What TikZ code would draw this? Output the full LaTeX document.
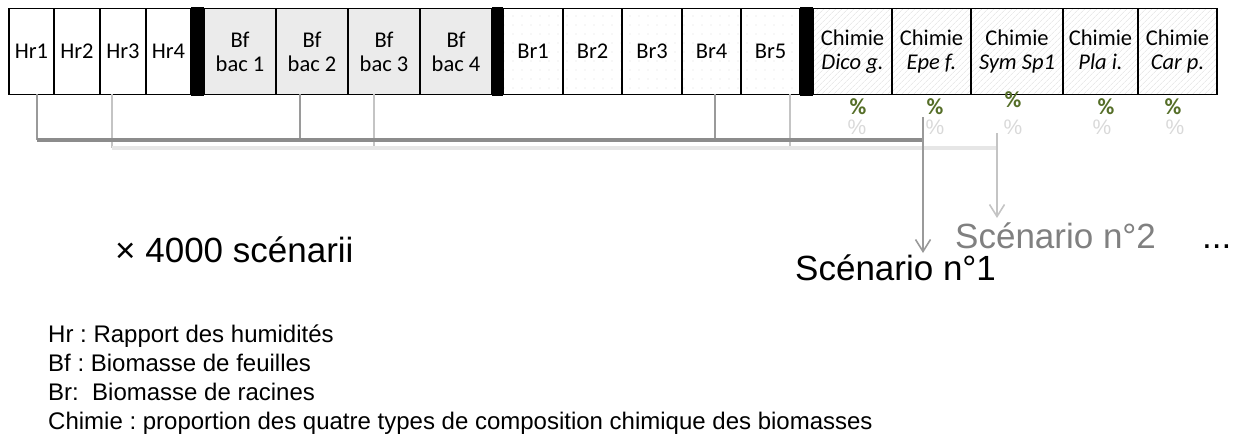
\documentclass[tikz,border=0pt]{standalone}
\usepackage{fontspec}
\setmainfont{Liberation Sans}
\newfontfamily\calib{Carlito}
\usetikzlibrary{arrows.meta,patterns.meta}
\definecolor{bfgray}{HTML}{EBEBEB}
\definecolor{pctgreen}{RGB}{85,110,40}
\definecolor{lnDark}{HTML}{8C8C8C}
\definecolor{lnDarkV}{HTML}{9A9A9A}
\definecolor{lnLight}{HTML}{E6E6E6}
\definecolor{lnLightV}{HTML}{C4C4C4}
\definecolor{sctwo}{HTML}{808080}
\definecolor{pctlight}{HTML}{D9D9D9}
\definecolor{patc}{HTML}{DEDEDE}
\frenchspacing
\begin{document}
\begin{tikzpicture}[x=1pt,y=-1pt,
  cell/.style={draw=black, line width=1.6pt, minimum height=86pt, inner sep=0pt,
    align=center, font=\calib\fontsize{22.5}{24}\selectfont},
  hrcell/.style={cell, fill=white},
  bfcell/.style={cell, fill=bfgray},
  brcell/.style={cell, pattern={Dots[distance=9pt,radius=0.6pt]}, pattern color=patc},
  chcell/.style={cell, pattern={Lines[angle=45,distance=4pt,line width=0.5pt]}, pattern color=patc},
  sepbar/.style={fill=black, draw=none, minimum height=89pt, inner sep=0pt},
  pctg/.style={inner sep=0pt, text=pctgreen, font=\calib\bfseries\fontsize{23}{25}\selectfont},
  pctl/.style={inner sep=0pt, text=pctlight, font=\fontsize{21}{23}\selectfont},
  lhor/.style={draw=lnLight, line width=3.2pt},
  lvert/.style={draw=lnLightV, line width=1.6pt},
  dhor/.style={draw=lnDark, line width=3.2pt},
  dvert/.style={draw=lnDarkV, line width=1.6pt},
  tip/.style={-{Straight Barb[length=12pt,width=15pt]}},
  big/.style={inner sep=0pt, anchor=base west, font=\fontsize{35}{40}\selectfont},
  legend/.style={inner sep=0pt, anchor=base west, font=\fontsize{24}{28}\selectfont}
]
\useasboundingbox (0,0) rectangle (1233,439);

% ---- table ----
\node[hrcell, minimum width=45pt] (hr1) at (31.5,51.5) {Hr1};
\node[hrcell, minimum width=46pt] (hr2) at (77,51.5) {Hr2};
\node[hrcell, minimum width=46pt] (hr3) at (123,51.5) {Hr3};
\node[hrcell, minimum width=45pt] (hr4) at (168.5,51.5) {Hr4};
\node[sepbar, minimum width=13pt] (bar1) at (197.5,51.5) {};
\node[bfcell, minimum width=72pt] (bf1) at (240,51.5) {Bf\\bac 1};
\node[bfcell, minimum width=72pt] (bf2) at (312,51.5) {Bf\\bac 2};
\node[bfcell, minimum width=72pt] (bf3) at (384,51.5) {Bf\\bac 3};
\node[bfcell, minimum width=72pt] (bf4) at (456,51.5) {Bf\\bac 4};
\node[sepbar, minimum width=11pt] (bar2) at (497.5,51.5) {};
\node[brcell, minimum width=60pt] (br1) at (533,51.5) {Br1};
\node[brcell, minimum width=59pt] (br2) at (592.5,51.5) {Br2};
\node[brcell, minimum width=60pt] (br3) at (652,51.5) {Br3};
\node[brcell, minimum width=59pt] (br4) at (711.5,51.5) {Br4};
\node[brcell, minimum width=59pt] (br5) at (770.5,51.5) {Br5};
\node[sepbar, minimum width=13pt] (bar3) at (806.5,51.5) {};
\node[chcell, minimum width=79pt] (ch1) at (852.5,51.5) {Chimie\\\textit{Dico g.}};
\node[chcell, minimum width=79pt] (ch2) at (931.5,51.5) {Chimie\\\textit{Epe f.}};
\node[chcell, minimum width=92pt] (ch3) at (1017,51.5) {Chimie\\\textit{Sym Sp1}};
\node[chcell, minimum width=75pt] (ch4) at (1100.5,51.5) {Chimie\\\textit{Pla i.}\vphantom{g}};
\node[chcell, minimum width=79pt] (ch5) at (1177.5,51.5) {Chimie\\\textit{Car p.}};

% ---- percentages ----
\node[pctl] (pl1) at (857,127) {\%};
\node[pctl] (pl2) at (935,127) {\%};
\node[pctl] (pl3) at (1013,127) {\%};
\node[pctl] (pl4) at (1102,127) {\%};
\node[pctl] (pl5) at (1175,127) {\%};
\node[pctg] (pg1) at (858,106.5) {\%};
\node[pctg] (pg2) at (935,106.5) {\%};
\node[pctg] (pg3) at (1013,100) {\%};
\node[pctg] (pg4) at (1106,106.5) {\%};
\node[pctg] (pg5) at (1173,106.5) {\%};

% ---- scenario texts ----
\node[big] (mult) at (115,262) {× 4000 scénarii};
\node[big, text=sctwo] (sc2) at (955,248) {Scénario n°2};
\node[big] (sc1) at (795,280) {Scénario n°1};
\node[big] (more) at (1202,248) {...};

% ---- scenario 2 (light) ----
\coordinate (L0) at (112,94);  \coordinate (L0b) at (112,148);
\coordinate (L1) at (374,94);  \coordinate (L1b) at (374,148);
\coordinate (L2) at (790,94);  \coordinate (L2b) at (790,148);
\coordinate (L3) at (997,148); \coordinate (L3t) at (997,133);
\coordinate (L3e) at (997,218);
\draw[lvert] (L0) -- (L0b);
\draw[lvert] (L1) -- (L1b);
\draw[lvert] (L2) -- (L2b);
\draw[lhor] (L0b) -- (L3);
\draw[lvert, tip] (L3t) -- (L3e);

% ---- scenario 1 (dark) ----
\coordinate (D0) at (37,94);   \coordinate (D0b) at (37,140);
\coordinate (D1) at (300,94);  \coordinate (D1b) at (300,140);
\coordinate (D2) at (715,94);  \coordinate (D2b) at (715,140);
\coordinate (D3) at (923,140); \coordinate (D3t) at (923,117);
\coordinate (D3e) at (923,253);
\draw[dvert] (D0) -- (D0b);
\draw[dvert] (D1) -- (D1b);
\draw[dvert] (D2) -- (D2b);
\draw[dhor] (D0b) -- (D3);
\draw[dvert, tip] (D3t) -- (D3e);

% ---- legend ----
\node[legend] (lg1) at (48,342) {Hr : Rapport des humidités};
\node[legend] (lg2) at (48,371) {Bf : Biomasse de feuilles};
\node[legend] (lg3) at (48,400) {Br:~ Biomasse de racines};
\node[legend] (lg4) at (48,429) {Chimie : proportion des quatre types de composition chimique des biomasses};
\end{tikzpicture}
\end{document}
